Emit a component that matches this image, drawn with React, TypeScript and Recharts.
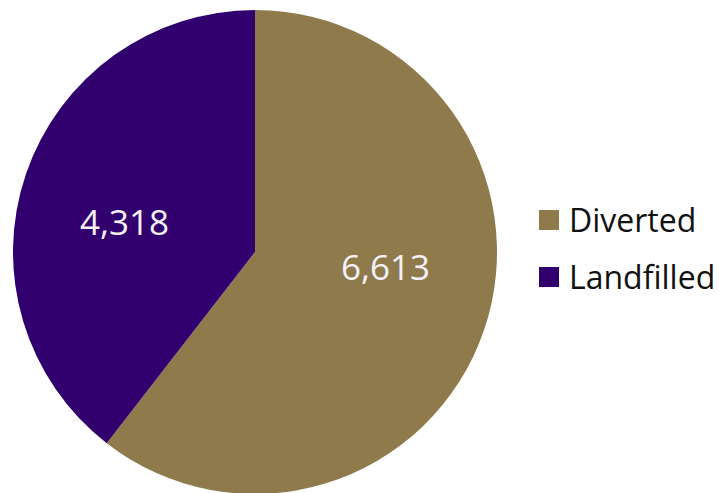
import { PieChart, Pie, Cell, Legend } from "recharts"

const categories = ["Diverted", "Landfilled"]
const values = [6613, 4318]
const colors = ["#8f7a4c", "#32006e"]

const data = categories.map((name, i) => ({ name, value: values[i] }))

const RAD = Math.PI / 180

// label sits along the mid angle, pulled a little toward the horizontal
function renderLabel(props: any) {
  const { cx, cy, midAngle, outerRadius, value } = props
  const r = outerRadius * 0.57
  const x = cx + r * Math.cos(-midAngle * RAD)
  const y = cy + r * Math.sin(-midAngle * RAD) * 0.5 - 8
  return (
    <text x={x} y={y} fill="#f6f1f7" textAnchor="middle" dominantBaseline="central"
      fontSize={35} fontFamily="'Open Sans', sans-serif">
      {value.toLocaleString("en-US")}
    </text>
  )
}

function LegendContent(props: any) {
  const { payload } = props
  return (
    <div style={{ fontFamily: "'Open Sans', sans-serif", fontSize: 32, color: "#111" }}>
      {(payload || []).map((p: any) => (
        <div key={p.value} style={{ display: "flex", alignItems: "center", height: 57 }}>
          <span style={{ width: 20, height: 20, background: p.color, marginRight: 10, display: "inline-block" }} />
          <span>{p.value}</span>
        </div>
      ))}
    </div>
  )
}

export default function App() {
  return (
    <div style={{ position: "absolute", left: 0, top: 0, width: 719, height: 493, background: "#fff" }}>
      <PieChart width={719} height={493} margin={{ top: 0, right: 0, bottom: 0, left: 0 }}>
        <Pie
          data={data}
          dataKey="value"
          nameKey="name"
          cx={255}
          cy={252}
          outerRadius={242}
          startAngle={90}
          endAngle={-270}
          stroke="none"
          labelLine={false}
          label={renderLabel}
          isAnimationActive={false}
        >
          {data.map((d, i) => (
            <Cell key={d.name} fill={colors[i]} />
          ))}
        </Pie>
        <Legend
          layout="vertical"
          align="right"
          verticalAlign="middle"
          content={<LegendContent />}
          wrapperStyle={{ left: 539, top: 220 - 29, width: 180 }}
        />
      </PieChart>
    </div>
  )
}
